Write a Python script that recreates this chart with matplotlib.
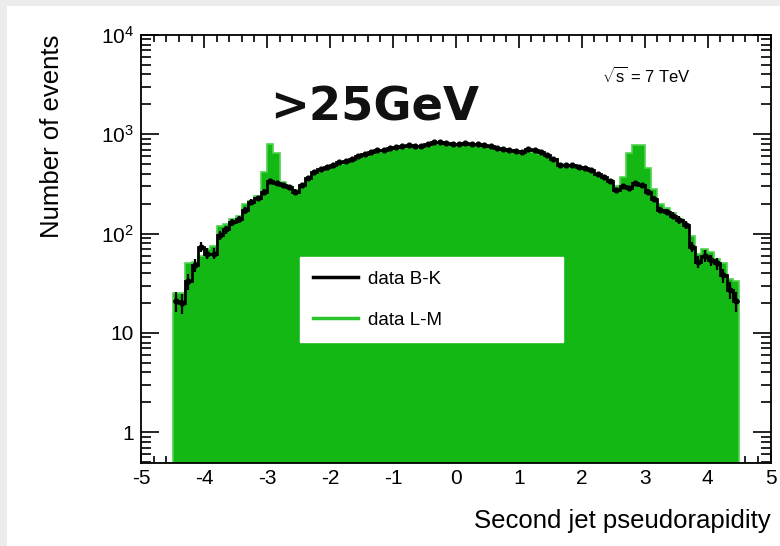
import numpy as np
import matplotlib
matplotlib.use("Agg")
import matplotlib.pyplot as plt
from matplotlib.ticker import FixedLocator, MultipleLocator, FuncFormatter, NullFormatter
from matplotlib.lines import Line2D
from matplotlib.patches import Rectangle

plt.rcParams['font.family'] = ['Liberation Sans', 'DejaVu Sans']
plt.rcParams['mathtext.fontset'] = 'custom'
plt.rcParams['mathtext.rm'] = 'Liberation Sans'
plt.rcParams['mathtext.default'] = 'regular'

# 0.1-wide bins from -5 to 5 (outer bins empty)
edges = np.round(np.arange(-5.0, 5.0001, 0.1), 2)

# data B-K (black points)
black = [0, 0, 0, 0, 0,
         21, 20, 33, 48, 74, 63, 63, 97, 110, 130,
         139, 172, 210, 226, 264, 340, 323, 308, 292, 264,
         308, 360, 420, 445, 470, 495, 520, 540, 565, 600,
         630, 668, 690, 700, 724, 740, 755, 780, 770, 760,
         800, 830, 845, 812, 800, 805, 812, 805, 800, 785,
         767, 730, 705, 695, 680, 660, 710, 690, 660, 618,
         570, 490, 490, 485, 472, 455, 436, 400, 370, 340,
         274, 302, 286, 323, 308, 264, 223, 173, 165, 151,
         137, 122, 74, 52, 60, 54, 50, 38, 27, 21,
         0, 0, 0, 0, 0]

# data L-M (green filled histogram)
green = [0, 0, 0, 0, 0,
         25, 25, 50, 52, 60, 70, 75, 118, 125, 140,
         150, 200, 215, 240, 420, 800, 645, 330, 300, 275,
         300, 345, 400, 430, 455, 480, 505, 530, 550, 585,
         610, 640, 665, 680, 700, 715, 730, 745, 750, 750,
         770, 790, 800, 790, 780, 785, 790, 785, 780, 765,
         750, 720, 700, 690, 670, 655, 680, 670, 640, 600,
         560, 500, 495, 485, 470, 450, 430, 400, 370, 345,
         300, 370, 650, 780, 780, 460, 280, 200, 180, 160,
         140, 125, 95, 62, 70, 66, 55, 50, 35, 33,
         0, 0, 0, 0, 0]

black = np.array(black, dtype=float)
green = np.array(green, dtype=float)
centers = (edges[:-1] + edges[1:]) / 2
ymin, ymax = 0.49, 1e4

GREEN = '#14b814'

fig = plt.figure(figsize=(7.8, 5.46), dpi=100, facecolor='#ececec')
fig.patches.append(Rectangle((7 / 780, 0), 1, 1 - 6 / 546, transform=fig.transFigure,
                             facecolor='white', edgecolor='none', zorder=-10))
ax = fig.add_axes([0.181, 0.152, 0.807, 0.784])

# green histogram, empty bins sit on the floor
g = np.where(green > 0, green, ymin)
ax.stairs(g, edges, fill=True, baseline=ymin, color=GREEN, zorder=2)
ax.stairs(g, edges, baseline=None, color='#4fd24f', lw=1.2, zorder=2)

# black data: step line + points with errors
nz = black > 0
ax.stairs(black[5:-5], edges[5:-5], baseline=None, color='black', lw=2.0, zorder=3)
ax.errorbar(centers[nz], black[nz], yerr=np.sqrt(black[nz]), fmt='o', color='black',
            ms=3.4, elinewidth=1.6, capsize=0, zorder=4)

ax.set_yscale('log')
ax.set_xlim(-5, 5)
ax.set_ylim(ymin, ymax)

ax.xaxis.set_major_locator(MultipleLocator(1))
ax.xaxis.set_minor_locator(MultipleLocator(0.2))
ax.yaxis.set_major_locator(FixedLocator([1, 10, 100, 1000, 10000]))
minors = [m * 10.0 ** d for d in range(-1, 4) for m in range(2, 10)]
ax.yaxis.set_minor_locator(FixedLocator([v for v in minors if v >= ymin]))
ax.yaxis.set_minor_formatter(NullFormatter())


def ylab(v, pos):
    if v < 1.5:
        return '1'
    if v < 15:
        return '10'
    return r'$10^{%d}$' % round(np.log10(v))


ax.yaxis.set_major_formatter(FuncFormatter(ylab))
ax.xaxis.set_major_formatter(FuncFormatter(lambda v, p: '%d' % round(v)))

ax.tick_params(which='both', direction='in', top=True, right=True, width=1.2, colors='black')
ax.tick_params(axis='x', which='major', length=9, labelsize=15, pad=4)
ax.tick_params(axis='x', which='minor', length=5)
ax.tick_params(axis='y', which='major', length=13, labelsize=15, pad=5)
ax.tick_params(axis='y', which='minor', length=7)
for s in ax.spines.values():
    s.set_linewidth(1.3)

ax.set_xlabel('Second jet pseudorapidity', fontsize=18.5, loc='right')
ax.xaxis.set_label_coords(1.0, -0.108)
ax.set_ylabel('Number of events', fontsize=18.5, loc='top')
ax.yaxis.set_label_coords(-0.122, 1.0)

ax.text(0.205, 0.83, '>25GeV', transform=ax.transAxes, fontsize=33.5,
        fontweight='bold', family='DejaVu Sans', color='#111111', va='center')
ax.text(0.732, 0.905, r'$\sqrt{s}$ = 7 TeV', transform=ax.transAxes, fontsize=12,
        va='center', ha='left')

handles = [Line2D([], [], color='black', lw=2.5), Line2D([], [], color='#2cc42c', lw=2.5)]
leg = ax.legend(handles, ['data B-K', 'data L-M'], loc='upper left',
                bbox_to_anchor=(0.252, 0.292, 0.418, 0.189), mode='expand',
                fontsize=13.5, frameon=True, fancybox=False, framealpha=1,
                edgecolor='white', facecolor='white', handlelength=2.4,
                handletextpad=0.5, labelspacing=1.27, borderpad=0.72, borderaxespad=0)
leg.set_zorder(5)

fig.savefig('out.png', dpi=100, facecolor=fig.get_facecolor())
